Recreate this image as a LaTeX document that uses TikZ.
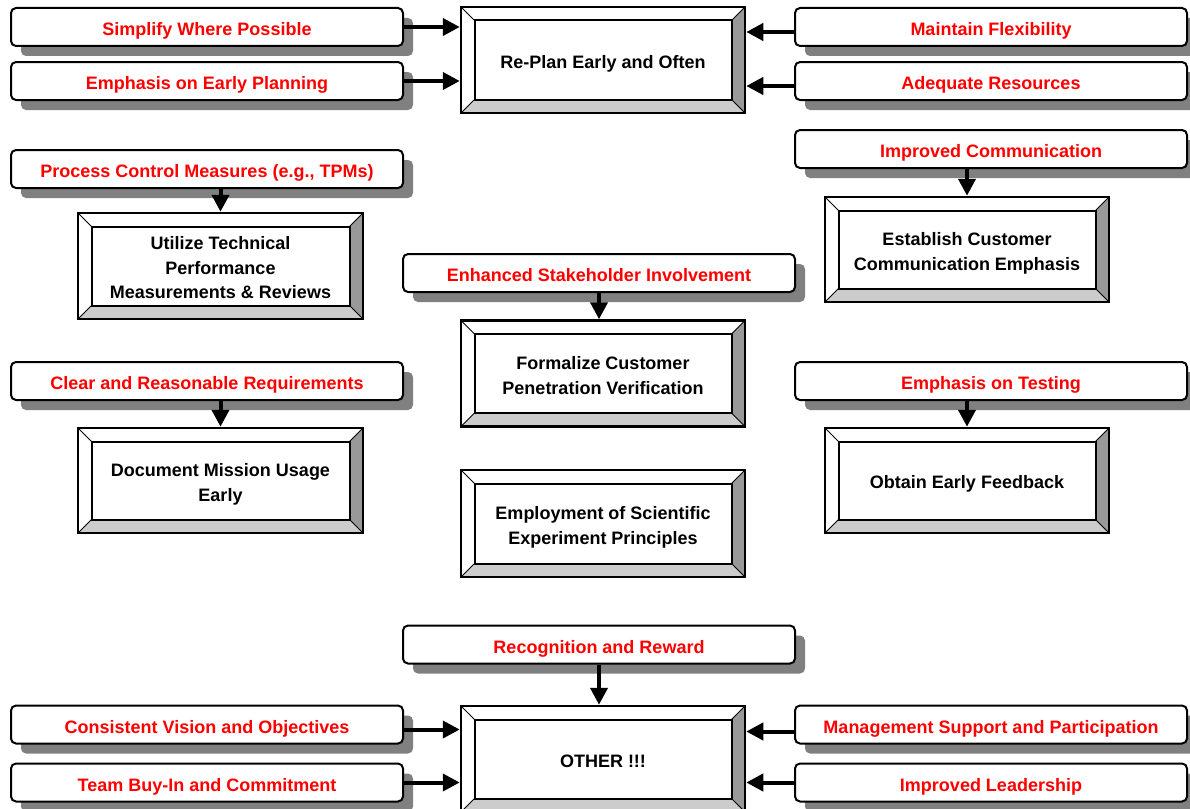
\documentclass[tikz,border=0pt]{standalone}
\usepackage{fontspec}
\setmainfont{Liberation Sans}
\usetikzlibrary{arrows.meta,shadows}

\definecolor{bevelDark}{HTML}{999999}
\definecolor{bevelLight}{HTML}{CCCCCC}
\definecolor{shadowGray}{HTML}{808080}

% centred stack of lines for the bevel boxes, set slightly low
% (the box keeps its natural size, only the ink moves down)
\newcommand\bevtext[1]{\raisebox{-3.5pt}[\height][\depth]{\begin{tabular}{@{}c@{}}#1\end{tabular}}}

\tikzset{
  % red driver labels: rounded white boxes with a flat grey shadow
  factor/.style={draw, line width=2pt, rounded corners=5pt, fill=white,
    minimum width=392pt, minimum height=38pt, inner sep=0pt,
    text height=17pt, text depth=0pt,
    text=red, font=\bfseries\fontsize{18}{21}\selectfont,
    general shadow={fill=shadowGray, shadow xshift=10pt, shadow yshift=-10pt}},
  % practice boxes: raised bevel frame
  practice/.style={draw, line width=2.5pt, fill=white, inner sep=0pt,
    minimum width=284pt, minimum height=106pt,
    font=\bfseries\fontsize{18}{24.5}\selectfont,
    path picture={
      \path (path picture bounding box.north east) coordinate (bNE)
            (path picture bounding box.south west) coordinate (bSW)
            ([shift={(-13.5pt,-13.5pt)}]bNE) coordinate (iNE)
            ([shift={(13.5pt,13.5pt)}]bSW) coordinate (iSW);
      \fill[bevelDark] (bNE) -- (bNE |- bSW) -- (iNE |- iSW) -- (iNE) -- cycle;
      \fill[bevelLight] (bSW) -- (bNE |- bSW) -- (iNE |- iSW) -- (iSW) -- cycle;
      \draw[line width=1pt] (bSW) -- (iSW) (bNE) -- (iNE)
        (bSW |- bNE) -- (iSW |- iNE) (bNE |- bSW) -- (iNE |- iSW);
      \draw[line width=2pt] (iSW) rectangle (iNE);
    }},
  link/.style={line width=4pt, -{Triangle[length=17pt,width=17pt]}}
}

\begin{document}
\begin{tikzpicture}[x=1pt, y=-1pt]
\useasboundingbox (0,0) rectangle (1190,808);

% practice boxes
\node[practice] (replan)    at (603,60)    {\bevtext{Re-Plan Early and Often}};
\node[practice, minimum width=285pt] (utilize) at (220.5,266)
  {\bevtext{Utilize Technical\\Performance\\Measurements \& Reviews}};
\node[practice, minimum height=105pt] (establish) at (967,249.5)
  {\bevtext{Establish Customer\\Communication Emphasis}};
\node[practice] (formalize) at (603,373.5)
  {\bevtext{Formalize Customer\\Penetration Verification}};
\node[practice, minimum width=285pt, minimum height=105pt] (document) at (220.5,480.5)
  {\bevtext{Document Mission Usage\\Early}};
\node[practice, minimum height=105pt] (obtain) at (967,480.5)
  {\bevtext{Obtain Early Feedback}};
\node[practice, minimum height=107pt] (employ) at (603,523.5)
  {\bevtext{Employment of Scientific\\Experiment Principles}};
\node[practice] (other) at (603,759) {\bevtext{OTHER !!!}};

% driver labels
\node[factor] (simplify)  at (207,27)    {Simplify Where Possible};
\node[factor] (earlyplan) at (207,81)    {Emphasis on Early Planning};
\node[factor] (flex)      at (991,27)    {Maintain Flexibility};
\node[factor] (resources) at (991,81)    {Adequate Resources};
\node[factor] (process)   at (207,169)   {Process Control Measures (e.g., TPMs)};
\node[factor] (comm)      at (991,149)   {Improved Communication};
\node[factor] (stake)     at (599,273)   {Enhanced Stakeholder Involvement};
\node[factor] (clear)     at (207,381)   {Clear and Reasonable Requirements};
\node[factor] (testing)   at (991,381)   {Emphasis on Testing};
\node[factor] (reward)    at (599,644.5) {Recognition and Reward};
\node[factor] (vision)    at (207,724.5) {Consistent Vision and Objectives};
\node[factor] (buyin)     at (207,782.5) {Team Buy-In and Commitment};
\node[factor] (mgmt)      at (991,724.5) {Management Support and Participation};
\node[factor] (leader)    at (991,782.5) {Improved Leadership};

% connectors into the top box
\draw[link] (simplify.east) -- (simplify.east -| replan.west);
\draw[link] (earlyplan.east) -- (earlyplan.east -| replan.west);
\draw[link] ([yshift=-5pt]flex.west) -- ([yshift=-5pt]flex.west -| replan.east);
\draw[link] ([yshift=-5pt]resources.west) -- ([yshift=-5pt]resources.west -| replan.east);

% vertical connectors
\draw[link] (process.south -| utilize.north) -- (utilize.north);
\draw[link] (comm.south -| establish.north) -- (establish.north);
\draw[link] (stake.south) -- (stake.south |- formalize.north);
\draw[link] (clear.south -| document.north) -- (document.north);
\draw[link] (testing.south -| obtain.north) -- (obtain.north);
\draw[link] (reward.south) -- (reward.south |- other.north);

% connectors into the bottom box
\draw[link] ([yshift=-5pt]vision.east) -- ([yshift=-5pt]vision.east -| other.west);
\draw[link] (buyin.east) -- (buyin.east -| other.west);
\draw[link] ([yshift=-7pt]mgmt.west) -- ([yshift=-7pt]mgmt.west -| other.east);
\draw[link] (leader.west) -- (leader.west -| other.east);
\end{tikzpicture}
\end{document}
